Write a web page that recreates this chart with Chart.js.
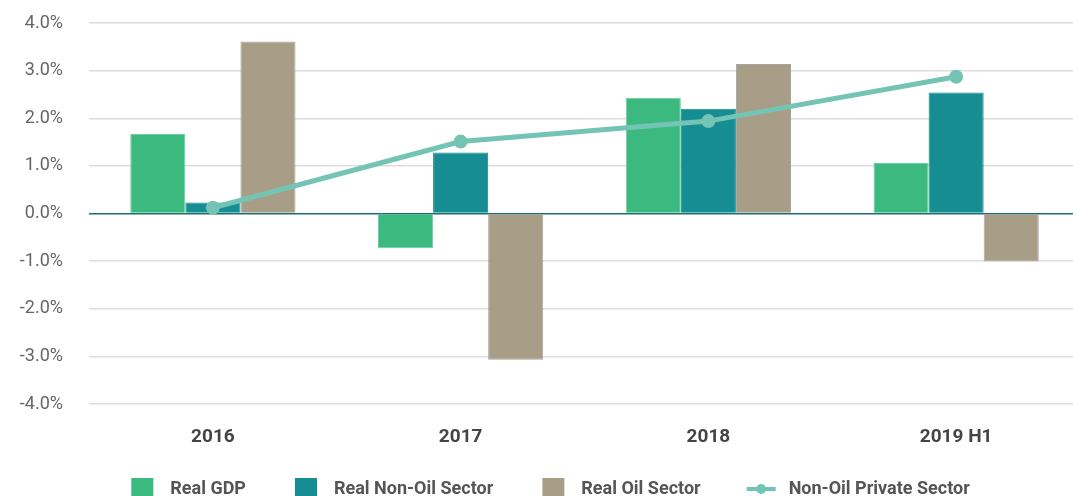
<!DOCTYPE html>
<html>
<head>
<meta charset="utf-8">
<script src="https://cdn.jsdelivr.net/npm/chart.js@4/dist/chart.umd.min.js"></script>
<style>
  html, body { margin: 0; padding: 0; background: #fff; overflow: hidden; }
  #wrap { position: relative; width: 1080px; height: 508px; }
</style>
</head>
<body>
<div id="wrap"><canvas id="chart"></canvas></div>
<script>
// ===== Data =====
const categories = ["2016", "2017", "2018", "2019 H1"];
const realGdp = [1.67, -0.73, 2.43, 1.06];
const realNonOil = [0.23, 1.28, 2.2, 2.54];
const realOil = [3.61, -3.07, 3.14, -1.01];
const nonOilPrivate = [0.12, 1.51, 1.94, 2.87];

const seriesNames = ["Real GDP", "Real Non-Oil Sector", "Real Oil Sector", "Non-Oil Private Sector"];
const colors = ["#3bb97f", "#168d92", "#a89d86", "#74c4b5"];
const borders = ["#6ccf9f", "#168d92", "#a3a3a0", "#74c4b5"];

// ===== Legend markers (left margin in the image acts as item spacing) =====
const MARK_W = 48;
function boxMarker(color) {
  const c = document.createElement("canvas");
  c.width = MARK_W; c.height = 22;
  const g = c.getContext("2d");
  g.fillStyle = color;
  g.fillRect(18, 0, 22, 22);
  return c;
}
function lineMarker(color) {
  const c = document.createElement("canvas");
  c.width = MARK_W; c.height = 22;
  const g = c.getContext("2d");
  g.strokeStyle = color;
  g.lineWidth = 4;
  g.beginPath(); g.moveTo(15, 11); g.lineTo(44, 11); g.stroke();
  g.fillStyle = color;
  g.beginPath(); g.arc(29.5, 11, 5, 0, Math.PI * 2); g.fill();
  return c;
}
const markers = [boxMarker(colors[0]), boxMarker(colors[1]), boxMarker(colors[2]), lineMarker(colors[3])];

const barDs = (i, data) => ({
  type: "bar",
  label: seriesNames[i],
  data,
  backgroundColor: colors[i],
  borderColor: borders[i],
  borderWidth: 1,
  categoryPercentage: 0.667,
  barPercentage: 1,
  order: 2,
});

const ctx = document.getElementById("chart");
new Chart(ctx, {
  data: {
    labels: categories,
    datasets: [
      barDs(0, realGdp),
      barDs(1, realNonOil),
      barDs(2, realOil),
      {
        type: "line",
        label: seriesNames[3],
        data: nonOilPrivate,
        borderColor: colors[3],
        backgroundColor: colors[3],
        borderWidth: 5,
        pointRadius: 4.5,
        pointHoverRadius: 4.5,
        tension: 0,
        clip: false,
        order: 1,
      },
    ],
  },
  options: {
    responsive: true,
    maintainAspectRatio: false,
    animation: false,
    layout: { autoPadding: false, padding: { top: 23, right: 0, left: 3, bottom: 0 } },
    scales: {
      x: {
        grid: { display: false, drawTicks: false },
        border: { display: false },
        ticks: {
          padding: 22,
          color: "#444",
          font: { family: "Roboto", size: 19, weight: "bold" },
        },
        afterFit(scale) {
          scale.height = 45;
          scale.paddingLeft = 0;
          scale.paddingRight = 0;
        },
      },
      y: {
        min: -4,
        max: 4,
        grid: {
          drawTicks: false,
          lineWidth: 1.5,
          color: (c) => (c.tick && c.tick.value === 0 ? "#1d6e70" : "#dddddd"),
        },
        border: { display: false },
        ticks: {
          stepSize: 1,
          padding: 26,
          color: "#666",
          font: { family: "Roboto", size: 18 },
          callback: (v) => v.toFixed(1) + "%",
        },
        afterFit(scale) {
          scale.width = 86;
          scale.paddingTop = 0;
          scale.paddingBottom = 0;
        },
      },
    },
    plugins: {
      tooltip: { enabled: false },
      legend: {
        position: "bottom",
        labels: {
          usePointStyle: true,
          pointStyleWidth: MARK_W,
          padding: 31,
          color: "#555",
          font: { family: "Roboto", size: 18, weight: "bold" },
          generateLabels(chart) {
            return chart.data.datasets.map((ds, i) => ({
              text: ds.label,
              pointStyle: markers[i],
              fillStyle: colors[i],
              strokeStyle: colors[i],
              lineWidth: 0,
              fontColor: "#555",
              hidden: false,
              datasetIndex: i,
            }));
          },
        },
      },
    },
  },
});
</script>
</body>
</html>
